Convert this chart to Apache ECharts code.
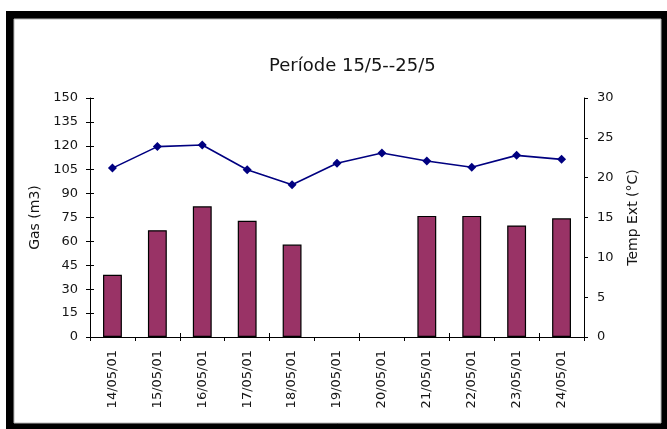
<!DOCTYPE html>
<html>
<head>
<meta charset="utf-8">
<script src="https://cdn.jsdelivr.net/npm/echarts@6/dist/echarts.min.js"></script>
<style>
  html, body { margin: 0; padding: 0; background: #fff; }
  #chart { width: 667px; height: 429px; }
</style>
</head>
<body>
<div id="chart"></div>
<script>
// Daily gas consumption (m3) and outdoor temperature (°C)
const days = ['14/05/01', '15/05/01', '16/05/01', '17/05/01', '18/05/01', '19/05/01',
              '20/05/01', '21/05/01', '22/05/01', '23/05/01', '24/05/01'];
const gas = [39, 67, 82, 73, 58, null, null, 76, 76, 70, 74.5];
const tempExt = [21.2, 23.9, 24.1, 21.0, 19.1, 21.8, 23.1, 22.1, 21.3, 22.8, 22.3];
const gasTicks = { min: 0, max: 150, interval: 15 };
const tempTicks = { min: 0, max: 30, interval: 5 };

const font = 'DejaVu Sans, Verdana, sans-serif';
const textColor = '#151515';
const chart = echarts.init(document.getElementById('chart'), null, { renderer: 'canvas' });

chart.setOption({
  animation: false,
  backgroundColor: '#fff',
  graphic: [
    { type: 'rect', z: -10, shape: { x: 6, y: 11, width: 661, height: 418 }, style: { fill: '#000' } },
    { type: 'rect', z: -9, shape: { x: 14, y: 19, width: 647, height: 404 },
      style: { fill: '#fff', stroke: '#b8b8b8', lineWidth: 1 } }
  ],
  title: {
    text: 'Període 15/5--25/5',
    left: 264, top: 52,
    textStyle: { fontFamily: font, fontSize: 18, fontWeight: 'normal', color: textColor }
  },
  grid: { left: 90, right: 83, top: 98, bottom: 92, containLabel: false },
  xAxis: [{
    type: 'category',
    data: days,
    boundaryGap: true,
    axisLine: { lineStyle: { color: '#000', width: 1 } },
    axisTick: { show: true, length: 4, lineStyle: { color: '#000' } },
    axisLabel: { rotate: 90, margin: 13, fontFamily: font, fontSize: 13, color: textColor, interval: 0 }
  }, {
    // inward half of the cross ticks on the category axis
    type: 'category',
    data: days,
    position: 'bottom',
    boundaryGap: true,
    axisLine: { show: false },
    axisTick: { show: true, inside: true, length: 4, lineStyle: { color: '#000' } },
    axisLabel: { show: false }
  }],
  yAxis: [{
    type: 'value',
    position: 'left',
    min: gasTicks.min, max: gasTicks.max, interval: gasTicks.interval,
    name: 'Gas (m3)',
    nameLocation: 'middle', nameRotate: 90, nameGap: 48,
    nameTextStyle: { fontFamily: font, fontSize: 14, color: textColor },
    axisLine: { show: true, lineStyle: { color: '#000' } },
    axisTick: { show: true, length: 4, lineStyle: { color: '#000' } },
    axisLabel: { fontFamily: font, fontSize: 13, color: textColor, margin: 12 },
    splitLine: { show: false }
  }, {
    type: 'value',
    position: 'right',
    min: tempTicks.min, max: tempTicks.max, interval: tempTicks.interval,
    name: 'Temp Ext (°C)',
    nameLocation: 'middle', nameRotate: 90, nameGap: 42,
    nameTextStyle: { fontFamily: font, fontSize: 14, color: textColor },
    axisLine: { show: true, lineStyle: { color: '#000' } },
    axisTick: { show: true, length: 4, lineStyle: { color: '#000' } },
    axisLabel: { fontFamily: font, fontSize: 13, color: textColor, margin: 13 },
    splitLine: { show: false }
  }, {
    // inward half of the cross ticks on the gas axis
    type: 'value',
    position: 'left',
    min: gasTicks.min, max: gasTicks.max, interval: gasTicks.interval,
    axisLine: { show: false },
    axisTick: { show: true, inside: true, length: 4, lineStyle: { color: '#000' } },
    axisLabel: { show: false },
    splitLine: { show: false }
  }],
  series: [{
    name: 'Gas (m3)',
    type: 'bar',
    xAxisIndex: 0, yAxisIndex: 0,
    data: gas,
    barWidth: '42%',
    itemStyle: { color: '#993366', borderColor: '#000', borderWidth: 1.2 }
  }, {
    name: 'Temp Ext (°C)',
    type: 'line',
    xAxisIndex: 0, yAxisIndex: 1,
    data: tempExt,
    symbol: 'diamond', symbolSize: 9,
    lineStyle: { color: '#000080', width: 1.6 },
    itemStyle: { color: '#000080' }
  }]
});
</script>
</body>
</html>
